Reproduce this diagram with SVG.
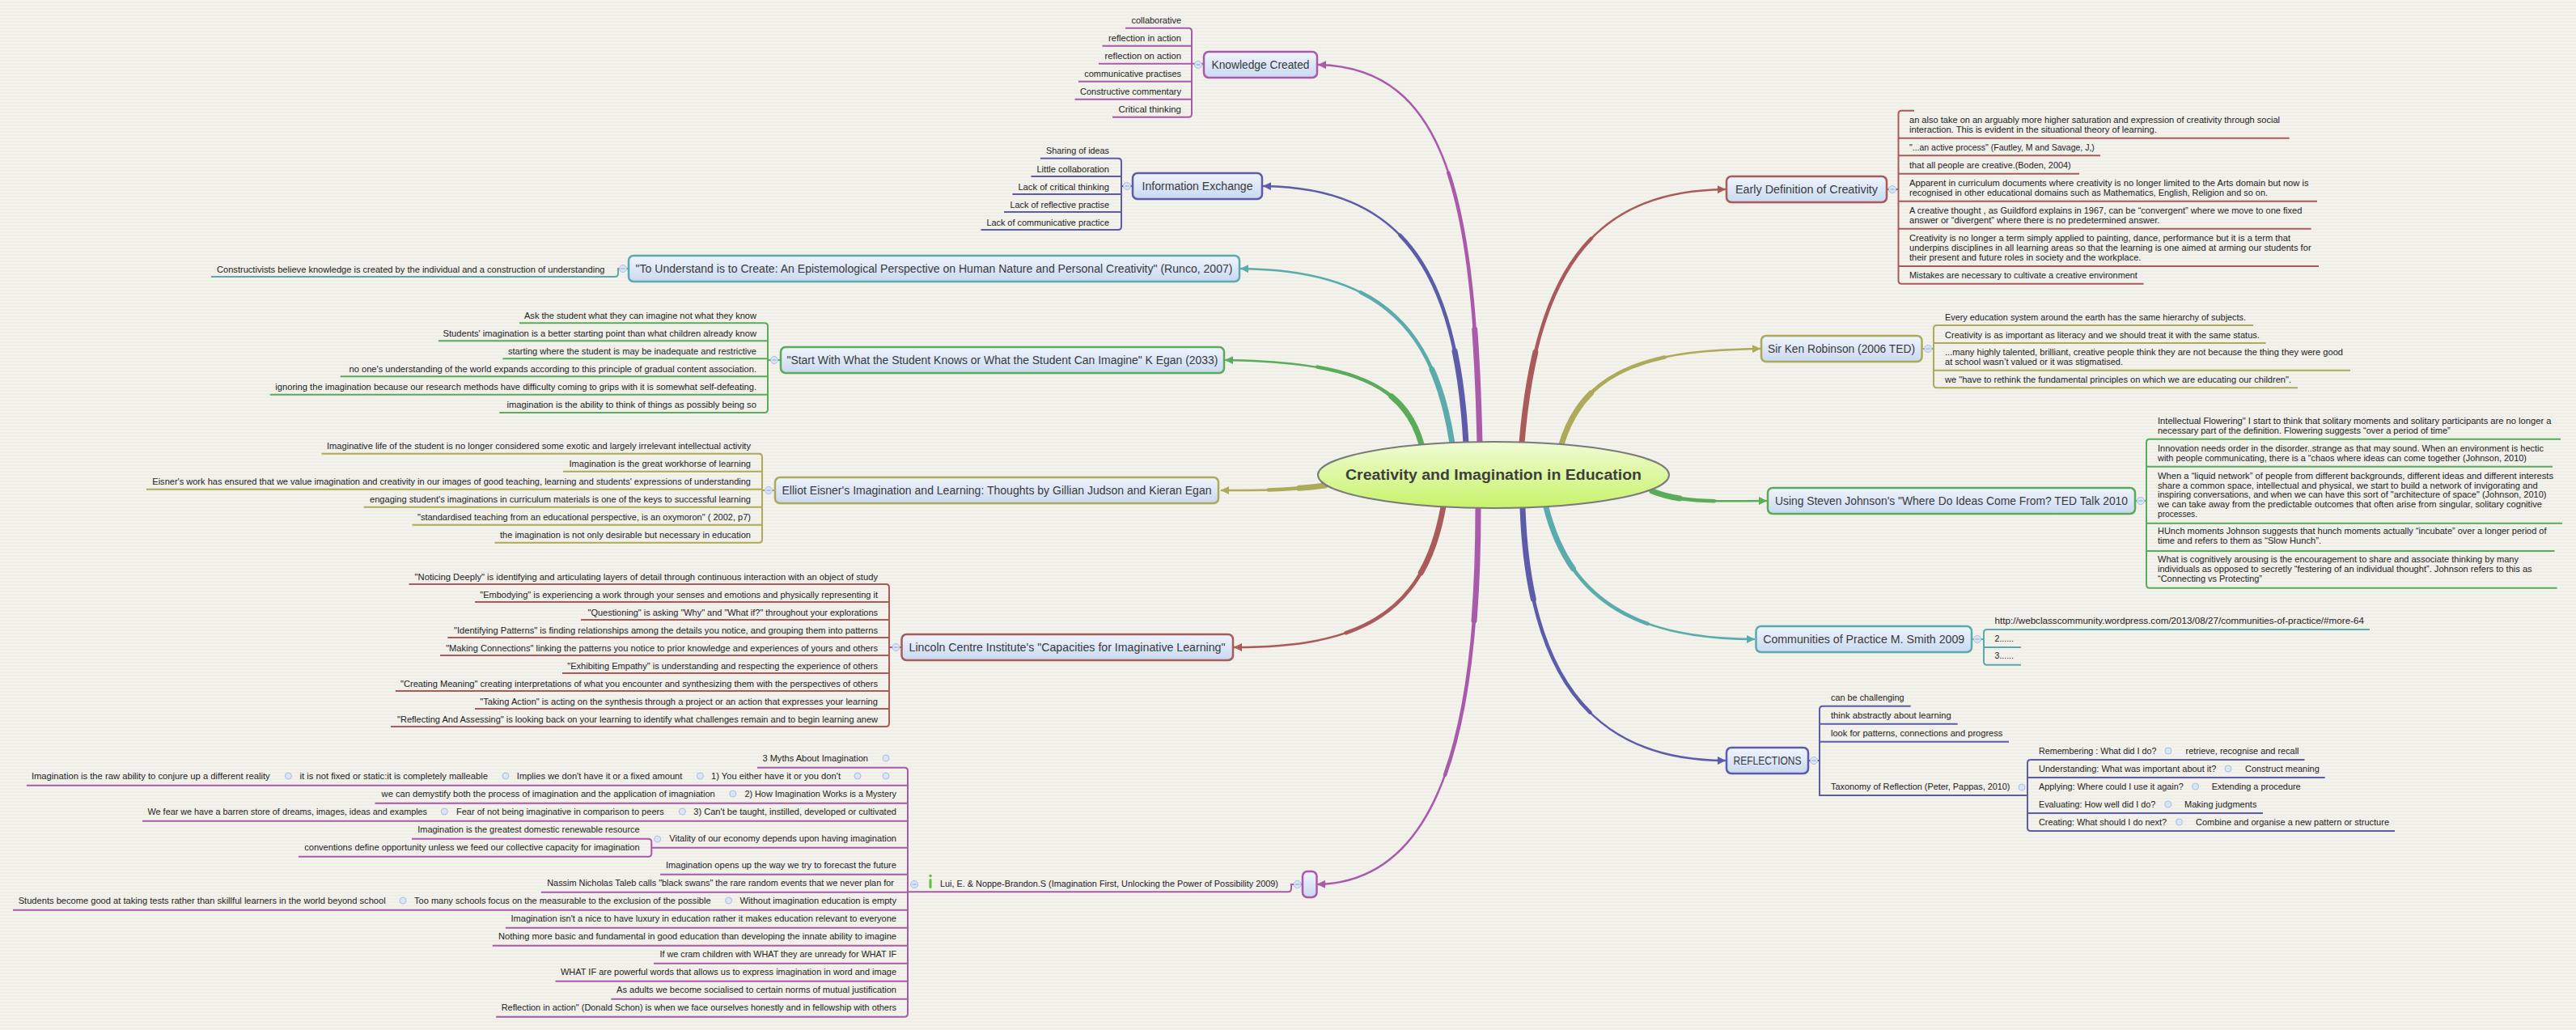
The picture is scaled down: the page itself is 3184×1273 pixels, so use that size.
<svg xmlns="http://www.w3.org/2000/svg" xmlns:xlink="http://www.w3.org/1999/xlink" width="3184" height="1273" viewBox="0 0 3184 1273">
<style>
.l{font-family:"Liberation Sans",Arial,sans-serif;font-size:10.5px;fill:#222}
.n{font-family:"Liberation Sans",Arial,sans-serif;font-size:14px;fill:#3a3a3a;text-anchor:middle}
.e{text-anchor:end}
.box{fill:url(#bg);stroke-width:2.5}
.ln{fill:none;stroke-width:2}
.c{fill:#dbe5f8;stroke:#a9bde3;stroke-width:1}
.m{stroke:#8aa2d6;stroke-width:1}
.pu{stroke:#aa5aaa}.bl{stroke:#5c5cab}.te{stroke:#5aabab}.gr{stroke:#5aab5a}.ol{stroke:#abab5a}.re{stroke:#ab5a5a}
.k{fill:none;stroke-linecap:round}
</style>
<defs>
<pattern id="bgp" width="8" height="4" patternUnits="userSpaceOnUse"><rect width="8" height="4" fill="#f3f2ec"/><rect y="2" width="8" height="2" fill="#efeee7"/></pattern>
<linearGradient id="bg" x1="0" y1="0" x2="0" y2="1"><stop offset="0" stop-color="#f0f5fd"/><stop offset="1" stop-color="#c9d9f1"/></linearGradient>
<linearGradient id="cg" x1="0" y1="0" x2="0" y2="1"><stop offset="0" stop-color="#f1fbd6"/><stop offset="1" stop-color="#c8f36a"/></linearGradient>
<marker id="a-pu" viewBox="0 0 10 10" refX="9" refY="5" markerWidth="4" markerHeight="4" orient="auto"><path d="M0,0L10,5L0,10z" fill="#aa5aaa"/></marker>
<marker id="a-bl" viewBox="0 0 10 10" refX="9" refY="5" markerWidth="4" markerHeight="4" orient="auto"><path d="M0,0L10,5L0,10z" fill="#5c5cab"/></marker>
<marker id="a-te" viewBox="0 0 10 10" refX="9" refY="5" markerWidth="4" markerHeight="4" orient="auto"><path d="M0,0L10,5L0,10z" fill="#5aabab"/></marker>
<marker id="a-gr" viewBox="0 0 10 10" refX="9" refY="5" markerWidth="4" markerHeight="4" orient="auto"><path d="M0,0L10,5L0,10z" fill="#5aab5a"/></marker>
<marker id="a-ol" viewBox="0 0 10 10" refX="9" refY="5" markerWidth="4" markerHeight="4" orient="auto"><path d="M0,0L10,5L0,10z" fill="#abab5a"/></marker>
<marker id="a-re" viewBox="0 0 10 10" refX="9" refY="5" markerWidth="4" markerHeight="4" orient="auto"><path d="M0,0L10,5L0,10z" fill="#ab5a5a"/></marker>
<path id="p1" pathLength="100" d="M1829,548 C1822,250 1790,84 1630,80"/>
<path id="p2" pathLength="100" d="M1812,548 C1800,330 1730,232 1562,230"/>
<path id="p3" pathLength="100" d="M1795,548 C1772,400 1700,334 1534,332"/>
<path id="p4" pathLength="100" d="M1757,549 C1735,470 1660,447 1515,445"/>
<path id="p5" pathLength="100" d="M1638,600 C1590,606 1560,606 1510,606"/>
<path id="p6" pathLength="100" d="M1784,626 C1760,760 1680,800 1526,800"/>
<path id="p7" pathLength="100" d="M1827,628 C1827,950 1760,1090 1629,1093"/>
<path id="p8" pathLength="100" d="M1881,547 C1900,320 1980,236 2132,234"/>
<path id="p9" pathLength="100" d="M1930,549 C1960,450 2050,433 2175,431"/>
<path id="p10" pathLength="100" d="M2042,607 C2080,622 2120,619 2183,619"/>
<path id="p11" pathLength="100" d="M1911,627 C1940,740 2020,790 2168,790"/>
<path id="p12" pathLength="100" d="M1882,628 C1890,850 1980,940 2132,940"/>
</defs>
<rect width="3184" height="1273" fill="url(#bgp)"/>

<g id="connectors">
<g class="k pu"><use href="#p1" stroke-width="2.5" marker-end="url(#a-pu)"/><use href="#p1" stroke-width="4.5" stroke-dasharray="60 200"/><use href="#p1" stroke-width="7" stroke-dasharray="25 200"/></g>
<g class="k bl"><use href="#p2" stroke-width="2.5" marker-end="url(#a-bl)"/><use href="#p2" stroke-width="4.5" stroke-dasharray="60 200"/><use href="#p2" stroke-width="7" stroke-dasharray="25 200"/></g>
<g class="k te"><use href="#p3" stroke-width="2.5" marker-end="url(#a-te)"/><use href="#p3" stroke-width="4.5" stroke-dasharray="60 200"/><use href="#p3" stroke-width="7" stroke-dasharray="25 200"/></g>
<g class="k gr"><use href="#p4" stroke-width="2.5" marker-end="url(#a-gr)"/><use href="#p4" stroke-width="4.5" stroke-dasharray="60 200"/><use href="#p4" stroke-width="7" stroke-dasharray="25 200"/></g>
<g class="k ol"><use href="#p5" stroke-width="2.5" marker-end="url(#a-ol)"/><use href="#p5" stroke-width="4.5" stroke-dasharray="55 200"/><use href="#p5" stroke-width="7" stroke-dasharray="25 200"/></g>
<g class="k re"><use href="#p6" stroke-width="2.5" marker-end="url(#a-re)"/><use href="#p6" stroke-width="4.5" stroke-dasharray="60 200"/><use href="#p6" stroke-width="7" stroke-dasharray="25 200"/></g>
<g class="k pu"><use href="#p7" stroke-width="2.5" marker-end="url(#a-pu)"/><use href="#p7" stroke-width="4.5" stroke-dasharray="60 200"/><use href="#p7" stroke-width="7" stroke-dasharray="25 200"/></g>
<g class="k re"><use href="#p8" stroke-width="2.5" marker-end="url(#a-re)"/><use href="#p8" stroke-width="4.5" stroke-dasharray="60 200"/><use href="#p8" stroke-width="7" stroke-dasharray="25 200"/></g>
<g class="k ol"><use href="#p9" stroke-width="2.5" marker-end="url(#a-ol)"/><use href="#p9" stroke-width="4.5" stroke-dasharray="60 200"/><use href="#p9" stroke-width="7" stroke-dasharray="25 200"/></g>
<g class="k gr"><use href="#p10" stroke-width="2.5" marker-end="url(#a-gr)"/><use href="#p10" stroke-width="4.5" stroke-dasharray="55 200"/><use href="#p10" stroke-width="7" stroke-dasharray="25 200"/></g>
<g class="k te"><use href="#p11" stroke-width="2.5" marker-end="url(#a-te)"/><use href="#p11" stroke-width="4.5" stroke-dasharray="60 200"/><use href="#p11" stroke-width="7" stroke-dasharray="25 200"/></g>
<g class="k bl"><use href="#p12" stroke-width="2.5" marker-end="url(#a-bl)"/><use href="#p12" stroke-width="4.5" stroke-dasharray="60 200"/><use href="#p12" stroke-width="7" stroke-dasharray="25 200"/></g>
</g>

<g id="central">
<ellipse cx="1846" cy="587" rx="217" ry="41" fill="url(#cg)" stroke="#7a7a7a" stroke-width="2"/>
<text x="1846" y="593" text-anchor="middle" font-family="Liberation Sans,Arial,sans-serif" font-size="17.5" font-weight="bold" fill="#3e3e3e" textLength="366" lengthAdjust="spacingAndGlyphs">Creativity and Imagination in Education</text>
</g>

<g id="knowledge-created">
<rect class="box pu" x="1488" y="64" width="140" height="32" rx="6"/>
<text class="n" x="1558" y="85" textLength="121" lengthAdjust="spacingAndGlyphs">Knowledge Created</text>
<path class="ln pu" d="M1391,34.7H1469Q1473,34.7 1473,38.7V140.7Q1473,144.7 1469,144.7H1375M1362.5,56.7H1473M1358,78.7H1488M1333,100.7H1473M1328.5,122.7H1473"/>
<circle class="c" cx="1481" cy="80" r="4.5"/><path class="m" d="M1478.5,80h5"/>
<g class="l e">
<text x="1460" y="29.2" textLength="61.5" lengthAdjust="spacingAndGlyphs">collaborative</text>
<text x="1460" y="51.2" textLength="90" lengthAdjust="spacingAndGlyphs">reflection in action</text>
<text x="1460" y="73.2" textLength="94.5" lengthAdjust="spacingAndGlyphs">reflection on action</text>
<text x="1460" y="95.2" textLength="119.7" lengthAdjust="spacingAndGlyphs">communicative practises</text>
<text x="1460" y="117.2" textLength="125" lengthAdjust="spacingAndGlyphs">Constructive commentary</text>
<text x="1460" y="139.2" textLength="77.6" lengthAdjust="spacingAndGlyphs">Critical thinking</text>
</g>
</g>

<g id="information-exchange">
<rect class="box bl" x="1400" y="214" width="160" height="32" rx="6"/>
<text class="n" x="1480" y="235" textLength="137" lengthAdjust="spacingAndGlyphs">Information Exchange</text>
<path class="ln bl" d="M1286,195.7H1382Q1386,195.7 1386,199.7V280Q1386,284 1382,284H1212.5M1274.5,218H1386M1251.5,240H1386M1386,230H1400M1241,262H1386"/>
<circle class="c" cx="1393" cy="230" r="4.5"/><path class="m" d="M1390.5,230h5"/>
<g class="l e">
<text x="1371" y="190.2" textLength="78" lengthAdjust="spacingAndGlyphs">Sharing of ideas</text>
<text x="1371" y="212.5" textLength="89.6" lengthAdjust="spacingAndGlyphs">Little collaboration</text>
<text x="1371" y="234.5" textLength="112.6" lengthAdjust="spacingAndGlyphs">Lack of critical thinking</text>
<text x="1371" y="256.5" textLength="122.5" lengthAdjust="spacingAndGlyphs">Lack of reflective practise</text>
<text x="1371" y="278.5" textLength="151.6" lengthAdjust="spacingAndGlyphs">Lack of communicative practice</text>
</g>
</g>

<g id="runco">
<rect class="box te" x="777" y="316" width="755" height="32" rx="6"/>
<text class="n" x="1154.5" y="337" textLength="738" lengthAdjust="spacingAndGlyphs">"To Understand is to Create: An Epistemological Perspective on Human Nature and Personal Creativity" (Runco, 2007)</text>
<path class="ln te" d="M261,342H760Q764,342 764,338V332H777"/>
<circle class="c" cx="770" cy="332" r="4.5"/><path class="m" d="M767.5,332h5"/>
<text class="l e" x="747.5" y="336.5" textLength="479.5" lengthAdjust="spacingAndGlyphs">Constructivists believe knowledge is created by the individual and a construction of understanding</text>
</g>

<g id="egan">
<rect class="box gr" x="965" y="429" width="548" height="32" rx="6"/>
<text class="n" x="1239" y="450" textLength="533" lengthAdjust="spacingAndGlyphs">"Start With What the Student Knows or What the Student Can Imagine" K Egan (2033)</text>
<path class="ln gr" d="M642,399.3H945Q949,399.3 949,403.3V506Q949,510 945,510H617.3M541.8,421.3H949M621.4,443.3H949M420.8,465.3H949M333.7,487.7H949M949,445H965"/>
<circle class="c" cx="957" cy="445" r="4.5"/><path class="m" d="M954.5,445h5"/>
<g class="l e">
<text x="935" y="393.8" textLength="287" lengthAdjust="spacingAndGlyphs">Ask the student what they can imagine not what they know</text>
<text x="935" y="415.8" textLength="387.4" lengthAdjust="spacingAndGlyphs">Students' imagination is a better starting point than what children already know</text>
<text x="935" y="437.8" textLength="307" lengthAdjust="spacingAndGlyphs">starting where the student is may be inadequate and restrictive</text>
<text x="935" y="459.8" textLength="503.5" lengthAdjust="spacingAndGlyphs">no one's understanding of the world expands according to this principle of gradual content association.</text>
<text x="935" y="482" textLength="594.7" lengthAdjust="spacingAndGlyphs">ignoring the imagination because our research methods have difficulty coming to grips with it is somewhat self-defeating.</text>
<text x="935" y="504.3" textLength="308.6" lengthAdjust="spacingAndGlyphs">imagination is the ability to think of things as possibly being so</text>
</g>
</g>

<g id="eisner">
<rect class="box ol" x="958" y="590" width="548" height="32" rx="6"/>
<text class="n" x="1232" y="611" textLength="531" lengthAdjust="spacingAndGlyphs">Elliot Eisner's Imagination and Learning: Thoughts by Gillian Judson and Kieran Egan</text>
<path class="ln ol" d="M397.5,560.7H938Q942,560.7 942,564.7V666.7Q942,670.7 938,670.7H611.5M696,582.7H942M181,604.7H942M449.8,626.7H942M509.5,648.7H942M942,606H958"/>
<circle class="c" cx="950" cy="606" r="4.5"/><path class="m" d="M947.5,606h5"/>
<g class="l e">
<text x="928" y="555" textLength="524" lengthAdjust="spacingAndGlyphs">Imaginative life of the student is no longer considered some exotic and largely irrelevant intellectual activity</text>
<text x="928" y="577" textLength="224.5" lengthAdjust="spacingAndGlyphs">Imagination is the great workhorse of learning</text>
<text x="928" y="599" textLength="739.7" lengthAdjust="spacingAndGlyphs">Eisner's work has ensured that we value imagination and creativity in our images of good teaching, learning and students' expressions of understanding</text>
<text x="928" y="621" textLength="471" lengthAdjust="spacingAndGlyphs">engaging student's imaginations in curriculum materials is one of the keys to successful learning</text>
<text x="928" y="643" textLength="412" lengthAdjust="spacingAndGlyphs">"standardised teaching from an educational perspective, is an oxymoron" ( 2002, p7)</text>
<text x="928" y="665" textLength="310" lengthAdjust="spacingAndGlyphs">the imagination is not only desirable but necessary in education</text>
</g>
</g>

<g id="lincoln">
<rect class="box re" x="1114.5" y="784" width="409.5" height="32" rx="6"/>
<text class="n" x="1319" y="805" textLength="391" lengthAdjust="spacingAndGlyphs">Lincoln Centre Institute's "Capacities for Imaginative Learning"</text>
<path class="ln re" d="M505.6,722H1095Q1099,722 1099,726V894Q1099,898 1095,898H483M587,744H1099M718,766H1099M553.3,788H1099M544,810H1099M695,832H1099M488.8,854H1099M587,876H1099M1099,800H1114.5"/>
<circle class="c" cx="1107.5" cy="800" r="4.5"/><path class="m" d="M1105,800h5"/>
<g class="l e">
<text x="1085" y="716.5" textLength="572.4" lengthAdjust="spacingAndGlyphs">"Noticing Deeply" is identifying and articulating layers of detail through continuous interaction with an object of study</text>
<text x="1085" y="738.5" textLength="491.7" lengthAdjust="spacingAndGlyphs">"Embodying" is experiencing a work through your senses and emotions and physically representing it</text>
<text x="1085" y="760.5" textLength="358.4" lengthAdjust="spacingAndGlyphs">"Questioning" is asking "Why" and "What if?" throughout your explorations</text>
<text x="1085" y="782.5" textLength="524" lengthAdjust="spacingAndGlyphs">"Identifying Patterns" is finding relationships among the details you notice, and grouping them into patterns</text>
<text x="1085" y="804.5" textLength="533.8" lengthAdjust="spacingAndGlyphs">"Making Connections" linking the patterns you notice to prior knowledge and experiences of yours and others</text>
<text x="1085" y="826.5" textLength="383.7" lengthAdjust="spacingAndGlyphs">"Exhibiting Empathy" is understanding and respecting the experience of others</text>
<text x="1085" y="848.5" textLength="590" lengthAdjust="spacingAndGlyphs">"Creating Meaning" creating interpretations of what you encounter and synthesizing them with the perspectives of others</text>
<text x="1085" y="870.5" textLength="491.7" lengthAdjust="spacingAndGlyphs">"Taking Action" is acting on the synthesis through a project or an action that expresses your learning</text>
<text x="1085" y="892.5" textLength="594" lengthAdjust="spacingAndGlyphs">"Reflecting And Assessing" is looking back on your learning to identify what challenges remain and to begin learning anew</text>
</g>
</g>

<g id="lui">
<rect class="box pu" x="1610" y="1077" width="17.5" height="32" rx="6"/>
<path class="ln pu" d="M1123,1102.3H1592Q1596,1102.3 1596,1098.3V1093H1610"/>
<circle class="c" cx="1603.6" cy="1093" r="4.5"/><path class="m" d="M1601.1,1093h5"/>
<circle class="c" cx="1130" cy="1093" r="4.5"/><path class="m" d="M1127.5,1093h5"/>
<rect x="1148.5" y="1086" width="3" height="12" rx="1.5" fill="#5cc43c"/><circle cx="1150" cy="1082.5" r="1.8" fill="#5cc43c"/>
<text class="l" x="1162" y="1095.7" textLength="418" lengthAdjust="spacingAndGlyphs">Lui, E. &amp; Noppe-Brandon.S (Imagination First, Unlocking the Power of Possibility 2009)</text>
<path class="ln pu" d="M936,948.7H1118Q1122,948.7 1122,952.7V1252.7Q1122,1256.7 1118,1256.7H613.1M33,970.7H1122M463.5,992.7H1122M176,1014.7H1122M805.3,1047.7H1122M509,1036.7H801.3Q805.3,1036.7 805.3,1040.7V1054.7Q805.3,1058.7 801.3,1058.7H369M816,1080.7H1122M668.9,1102.7H1122M16,1124.7H1122M624.9,1146.7H1122M608.7,1168.7H1122M808,1190.7H1122M686.5,1212.7H1122M755.4,1234.7H1122"/>
<g class="c"><circle cx="1095" cy="937" r="4"/><circle cx="1095" cy="959" r="4"/><circle cx="1060" cy="959" r="4"/><circle cx="865.4" cy="959" r="4"/><circle cx="624.9" cy="959" r="4"/><circle cx="356.4" cy="959" r="4"/><circle cx="905.8" cy="981" r="4"/><circle cx="843.4" cy="1003" r="4"/><circle cx="549.3" cy="1003" r="4"/><circle cx="812.6" cy="1037" r="4"/><circle cx="900.6" cy="1113" r="4"/><circle cx="498" cy="1113" r="4"/></g>
<g class="l e">
<text x="1073" y="940.7" textLength="130.6" lengthAdjust="spacingAndGlyphs">3 Myths About Imagination</text>
<text x="1039" y="962.7" textLength="160" lengthAdjust="spacingAndGlyphs">1) You either have it or you don't</text>
<text x="843.4" y="962.7" textLength="204.6" lengthAdjust="spacingAndGlyphs">Implies we don't have it or a fixed amount</text>
<text x="603" y="962.7" textLength="232.5" lengthAdjust="spacingAndGlyphs">it is not fixed or static:it is completely malleable</text>
<text x="333.7" y="962.7" textLength="294.8" lengthAdjust="spacingAndGlyphs">Imagination is the raw ability to conjure up a different reality</text>
<text x="1108" y="984.7" textLength="187.6" lengthAdjust="spacingAndGlyphs">2) How Imagination Works is a Mystery</text>
<text x="883.8" y="984.7" textLength="412.2" lengthAdjust="spacingAndGlyphs">we can demystify both the process of imagination and the application of imagniation</text>
<text x="1108" y="1006.7" textLength="250.7" lengthAdjust="spacingAndGlyphs">3) Can't be taught, instilled, developed or cultivated</text>
<text x="820.7" y="1006.7" textLength="256.7" lengthAdjust="spacingAndGlyphs">Fear of not being imaginative in comparison to peers</text>
<text x="528" y="1006.7" textLength="345.4" lengthAdjust="spacingAndGlyphs">We fear we have a barren store of dreams, images, ideas and examples</text>
<text x="1108" y="1039.7" textLength="280.7" lengthAdjust="spacingAndGlyphs">Vitality of our economy depends upon having imagination</text>
<text x="790.6" y="1028.7" textLength="274.3" lengthAdjust="spacingAndGlyphs">Imagination is the greatest domestic renewable resource</text>
<text x="790.6" y="1050.7" textLength="414.4" lengthAdjust="spacingAndGlyphs">conventions define opportunity unless we feed our collective capacity for imagination</text>
<text x="1108" y="1072.7" textLength="285.1" lengthAdjust="spacingAndGlyphs">Imagination opens up the way we try to forecast the future</text>
<text x="1105" y="1094.7" textLength="428.8" lengthAdjust="spacingAndGlyphs">Nassim Nicholas Taleb calls "black swans" the rare random events that we never plan for</text>
<text x="1108" y="1116.7" textLength="193.4" lengthAdjust="spacingAndGlyphs">Without imagination education is empty</text>
<text x="878.6" y="1116.7" textLength="366.6" lengthAdjust="spacingAndGlyphs">Too many schools focus on the measurable to the exclusion of the possible</text>
<text x="476.7" y="1116.7" textLength="454" lengthAdjust="spacingAndGlyphs">Students become good at taking tests rather than skillful learners in the world beyond school</text>
<text x="1108" y="1138.7" textLength="476.5" lengthAdjust="spacingAndGlyphs">Imagination isn't a nice to have luxury in education rather it makes education relevant to everyone</text>
<text x="1108" y="1160.7" textLength="492" lengthAdjust="spacingAndGlyphs">Nothing more basic and fundamental in good education than developing the innate ability to imagine</text>
<text x="1108" y="1182.7" textLength="292.5" lengthAdjust="spacingAndGlyphs">If we cram children with WHAT they are unready for WHAT IF</text>
<text x="1108" y="1204.7" textLength="415" lengthAdjust="spacingAndGlyphs">WHAT IF are powerful words that allows us to express imagination in word and image</text>
<text x="1108" y="1226.7" textLength="346" lengthAdjust="spacingAndGlyphs">As adults we become socialised to certain norms of mutual justification</text>
<text x="1108" y="1248.7" textLength="488.3" lengthAdjust="spacingAndGlyphs">Reflection in action" (Donald Schon) is when we face ourselves honestly and in fellowship with others</text>
</g>
</g>

<g id="early-definition">
<rect class="box re" x="2134" y="218" width="198" height="32" rx="6"/>
<text class="n" x="2233" y="239" textLength="176" lengthAdjust="spacingAndGlyphs">Early Definition of Creativity</text>
<path class="ln re" d="M2366,136.7H2350.5Q2346.5,136.7 2346.5,140.7V346.7Q2346.5,350.7 2350.5,350.7H2649.5M2346.5,170.7H2829.6M2346.5,192.3H2596M2346.5,214.7H2570M2346.5,248.7H2864M2346.5,282.7H2856.6M2346.5,329H2866M2332,234H2346.5"/>
<circle class="c" cx="2339" cy="234" r="4.5"/><path class="m" d="M2336.5,234h5"/>
<g class="l">
<text x="2360" y="152" textLength="458" lengthAdjust="spacingAndGlyphs">an also take on an arguably more higher saturation and expression of creativity through social</text>
<text x="2360" y="164" textLength="305.8" lengthAdjust="spacingAndGlyphs">interaction. This is evident in the situational theory of learning.</text>
<text x="2360" y="186" textLength="228.8" lengthAdjust="spacingAndGlyphs">"...an active process" (Fautley, M and Savage, J,)</text>
<text x="2360" y="208" textLength="199.7" lengthAdjust="spacingAndGlyphs">that all people are creative.(Boden, 2004)</text>
<text x="2360" y="230" textLength="493.6" lengthAdjust="spacingAndGlyphs">Apparent in curriculum documents where creativity is no longer limited to the Arts domain but now is</text>
<text x="2360" y="242" textLength="443" lengthAdjust="spacingAndGlyphs">recognised in other educational domains such as Mathematics, English, Religion and so on.</text>
<text x="2360" y="264" textLength="485.4" lengthAdjust="spacingAndGlyphs">A creative thought , as Guildford explains in 1967, can be “convergent” where we move to one fixed</text>
<text x="2360" y="276" textLength="309.4" lengthAdjust="spacingAndGlyphs">answer  or “divergent” where there is no predetermined answer.</text>
<text x="2360" y="298" textLength="471" lengthAdjust="spacingAndGlyphs">Creativity is no longer a term simply applied to painting, dance, performance but it is a term that</text>
<text x="2360" y="310" textLength="496.6" lengthAdjust="spacingAndGlyphs">underpins disciplines in all learning areas so that the learning is one aimed at arming our students for</text>
<text x="2360" y="322" textLength="286.4" lengthAdjust="spacingAndGlyphs">their present and future roles in society and the workplace.</text>
<text x="2360" y="344" textLength="281.8" lengthAdjust="spacingAndGlyphs">Mistakes are necessary to cultivate a creative environment</text>
</g>
</g>

<g id="ken-robinson">
<rect class="box ol" x="2177" y="415" width="198.5" height="32" rx="6"/>
<text class="n" x="2276" y="436" textLength="182" lengthAdjust="spacingAndGlyphs">Sir Ken Robinson (2006 TED)</text>
<path class="ln ol" d="M2785,402H2394Q2390,402 2390,406V475.3Q2390,479.3 2394,479.3H2840M2390,424H2800.5M2390,457.7H2905M2375.5,431H2390"/>
<circle class="c" cx="2383" cy="431" r="4.5"/><path class="m" d="M2380.5,431h5"/>
<g class="l">
<text x="2404" y="395.7" textLength="372" lengthAdjust="spacingAndGlyphs">Every education system around the earth has the same hierarchy of subjects.</text>
<text x="2404" y="417.7" textLength="388.9" lengthAdjust="spacingAndGlyphs">Creativity is as important as literacy and we should treat it with the same status.</text>
<text x="2404" y="439.3" textLength="492" lengthAdjust="spacingAndGlyphs">...many highly talented, brilliant, creative people think they are not because the thing they were good</text>
<text x="2404" y="451.3" textLength="220" lengthAdjust="spacingAndGlyphs">at school wasn’t valued or it was stigmatised.</text>
<text x="2404" y="473.3" textLength="428" lengthAdjust="spacingAndGlyphs">we "have to rethink the fundamental principles on which we are educating our children".</text>
</g>
</g>

<g id="johnson">
<rect class="box gr" x="2185" y="603" width="454" height="32" rx="6"/>
<text class="n" x="2412" y="624" textLength="436" lengthAdjust="spacingAndGlyphs">Using Steven Johnson's "Where Do Ideas Come From? TED Talk 2010</text>
<path class="ln gr" d="M3165,542.7H2657Q2653,542.7 2653,546.7V722.7Q2653,726.7 2657,726.7H3160.5M2653,576.7H3155M2653,646.7H3167M2653,681H3157.5M2639,619H2653"/>
<circle class="c" cx="2646" cy="619" r="4.5"/><path class="m" d="M2643.5,619h5"/>
<g class="l">
<text x="2667" y="524" textLength="486.4" lengthAdjust="spacingAndGlyphs">Intellectual Flowering" I start to think that solitary moments and solitary participants are no longer a</text>
<text x="2667" y="536" textLength="361.7" lengthAdjust="spacingAndGlyphs">necessary part of the definition. Flowering suggests “over a period of time”</text>
<text x="2667" y="558" textLength="477" lengthAdjust="spacingAndGlyphs">Innovation needs order in the disorder..strange as that may sound. When an environment is hectic</text>
<text x="2667" y="570" textLength="456" lengthAdjust="spacingAndGlyphs">with people communicating, there is a “chaos where ideas can come together (Johnson, 2010)</text>
<text x="2667" y="592.3" textLength="489" lengthAdjust="spacingAndGlyphs">When a “liquid network” of people from different backgrounds, different ideas and different interests</text>
<text x="2667" y="603.8" textLength="469.7" lengthAdjust="spacingAndGlyphs">share a common space, intellectual and physical,  we start to build a network of invigorating and</text>
<text x="2667" y="615.3" textLength="480.5" lengthAdjust="spacingAndGlyphs">inspiring conversations, and when we can have this sort of  "architecture of space" (Johnson, 2010)</text>
<text x="2667" y="626.8" textLength="475" lengthAdjust="spacingAndGlyphs">we can take away from the predictable outcomes that often arise from  singular, solitary cognitive</text>
<text x="2667" y="638.5" textLength="49" lengthAdjust="spacingAndGlyphs">processes.</text>
<text x="2667" y="660.3" textLength="480.5" lengthAdjust="spacingAndGlyphs">HUnch moments Johnson suggests that hunch moments actually “incubate” over a longer period of</text>
<text x="2667" y="672.3" textLength="202" lengthAdjust="spacingAndGlyphs">time and refers to them as “Slow Hunch”.</text>
<text x="2667" y="695" textLength="446" lengthAdjust="spacingAndGlyphs">What is  cognitively arousing is the encouragement to share and associate thinking by many</text>
<text x="2667" y="706.7" textLength="462.6" lengthAdjust="spacingAndGlyphs">individuals as opposed to secretly “festering of an individual thought”. Johnson refers to this as</text>
<text x="2667" y="718.7" textLength="129" lengthAdjust="spacingAndGlyphs">“Connecting vs Protecting”</text>
</g>
</g>

<g id="communities">
<rect class="box te" x="2170.5" y="774" width="266.5" height="32" rx="6"/>
<text class="n" x="2303.7" y="795" textLength="249" lengthAdjust="spacingAndGlyphs">Communities of Practice M. Smith 2009</text>
<path class="ln te" d="M2929,778H2456Q2452,778 2452,782V817.7Q2452,821.7 2456,821.7H2498M2452,800H2498M2437,790H2452"/>
<circle class="c" cx="2444" cy="790" r="4.5"/><path class="m" d="M2441.5,790h5"/>
<g class="l">
<text x="2465.6" y="770.5" textLength="456.4" lengthAdjust="spacingAndGlyphs">http://webclasscommunity.wordpress.com/2013/08/27/communities-of-practice/#more-64</text>
<text x="2465.6" y="792.5">2......</text>
<text x="2465.6" y="814.3">3......</text>
</g>
</g>

<g id="reflections">
<rect class="box bl" x="2134" y="924" width="101" height="32" rx="6"/>
<text class="n" x="2184.5" y="945" textLength="84" lengthAdjust="spacingAndGlyphs">REFLECTIONS</text>
<path class="ln bl" d="M2361.7,872.7H2253Q2249,872.7 2249,876.7V983H2506M2249,894.7H2419.7M2249,916.7H2483M2235,940H2249M2848.5,939H2510Q2506,939 2506,943V1023Q2506,1027 2510,1027H2960M2506,961H2873.7M2506,1005H2797"/>
<circle class="c" cx="2242" cy="940" r="4.5"/><path class="m" d="M2239.5,940h5"/>
<g class="c"><circle cx="2499" cy="973" r="4"/><circle cx="2680" cy="928" r="4"/><circle cx="2754" cy="950" r="4"/><circle cx="2713.6" cy="972" r="4"/><circle cx="2679.7" cy="994" r="4"/><circle cx="2693.5" cy="1016" r="4"/></g>
<g class="l">
<text x="2263" y="866" textLength="90.6" lengthAdjust="spacingAndGlyphs">can be challenging</text>
<text x="2263" y="888" textLength="148.6" lengthAdjust="spacingAndGlyphs">think abstractly about learning</text>
<text x="2263" y="910" textLength="212.3" lengthAdjust="spacingAndGlyphs">look for patterns, connections and progress</text>
<text x="2263" y="976" textLength="221.5" lengthAdjust="spacingAndGlyphs">Taxonomy of Reflection (Peter, Pappas, 2010)</text>
<text x="2520" y="932" textLength="145.4" lengthAdjust="spacingAndGlyphs">Remembering : What did I do?</text>
<text x="2701.5" y="932" textLength="140" lengthAdjust="spacingAndGlyphs">retrieve, recognise and recall</text>
<text x="2520" y="954" textLength="219.4" lengthAdjust="spacingAndGlyphs">Understanding: What was important about it?</text>
<text x="2775" y="954" textLength="91.8" lengthAdjust="spacingAndGlyphs">Construct meaning</text>
<text x="2520" y="976" textLength="178.7" lengthAdjust="spacingAndGlyphs">Applying: Where could I use it again?</text>
<text x="2733.7" y="976" textLength="110" lengthAdjust="spacingAndGlyphs">Extending a procedure</text>
<text x="2520" y="998" textLength="144.2" lengthAdjust="spacingAndGlyphs">Evaluating: How well did I do?</text>
<text x="2700" y="998" textLength="89.4" lengthAdjust="spacingAndGlyphs">Making judgments</text>
<text x="2520" y="1020" textLength="158" lengthAdjust="spacingAndGlyphs">Creating: What should I do next?</text>
<text x="2714" y="1020" textLength="239" lengthAdjust="spacingAndGlyphs">Combine and organise a new pattern or structure</text>
</g>
</g>
</svg>
